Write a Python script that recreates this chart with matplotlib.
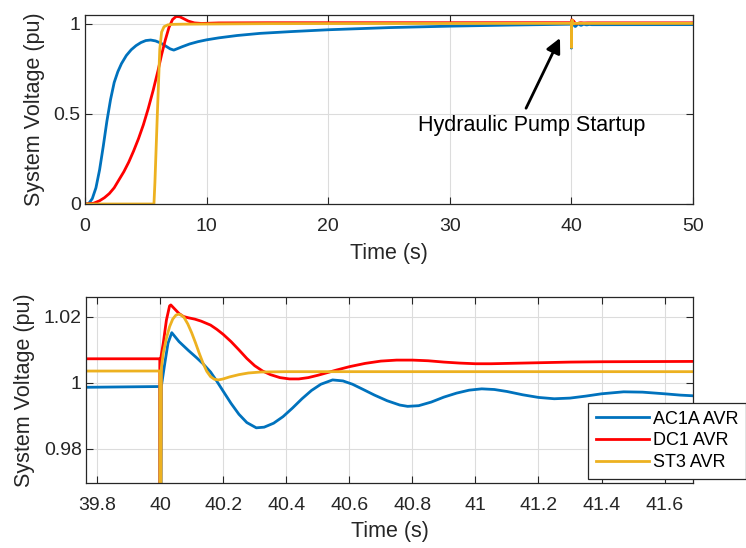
import matplotlib
matplotlib.use("Agg")
import matplotlib.pyplot as plt

plt.rcParams['font.family'] = ['Liberation Sans', 'DejaVu Sans']

# ---------------- data ----------------
ac1a_t = [0, 0.3, 0.6, 0.9, 1.2, 1.5, 1.8, 2.1, 2.4, 2.7, 3.0, 3.4, 3.8, 4.2, 4.6,
          5.0, 5.4, 5.8, 6.2, 6.6, 7.0, 7.3, 7.6, 8.0, 8.6, 9.3, 10, 11, 12.5, 14.4,
          17, 20, 25, 30, 35, 39.999,
          40.0, 40.004, 40.015, 40.025, 40.037, 40.06, 40.09, 40.116, 40.136, 40.16,
          40.18, 40.2, 40.225, 40.25, 40.275, 40.305, 40.33, 40.36, 40.39, 40.42,
          40.45, 40.48, 40.51, 40.547, 40.58, 40.61, 40.64, 40.68, 40.72, 40.76,
          40.785, 40.82, 40.86, 40.9, 40.94, 40.98, 41.02, 41.06, 41.1, 41.15, 41.2,
          41.25, 41.3, 41.35, 41.4, 41.47, 41.53, 41.6, 41.65, 41.69, 45, 50]
ac1a_v = [0, 0.002, 0.03, 0.09, 0.19, 0.32, 0.46, 0.58, 0.675, 0.735, 0.78, 0.825,
          0.857, 0.88, 0.897, 0.908, 0.911, 0.906, 0.895, 0.879, 0.862, 0.855, 0.863,
          0.874, 0.889, 0.902, 0.912, 0.923, 0.936, 0.948, 0.958, 0.968, 0.98, 0.988,
          0.994, 0.9989,
          0.866, 0.999, 1.006, 1.012, 1.0152, 1.0125, 1.0098, 1.0076, 1.0058, 1.0033,
          1.0005, 0.9975, 0.9938, 0.9905, 0.9880, 0.9864, 0.9866, 0.9878, 0.9898,
          0.9924, 0.9952, 0.9977, 0.9996, 1.0009, 1.0006, 0.9996, 0.9982, 0.9963,
          0.9946, 0.9933, 0.9929, 0.9931, 0.9942, 0.9957, 0.9969, 0.9978, 0.9982,
          0.9980, 0.9974, 0.9964, 0.9956, 0.9952, 0.9954, 0.996, 0.9967, 0.9973,
          0.9972, 0.9967, 0.9963, 0.9961, 0.9963, 0.9965]

dc1_t = [0, 0.7, 1.2, 1.6, 2.0, 2.4, 2.8, 3.2, 3.6, 4.0, 4.4, 4.8, 5.2, 5.6, 6.0,
         6.3, 6.6, 6.9, 7.2, 7.5, 7.8, 8.1, 8.5, 9.0, 9.6, 11, 15, 39.999,
         40.0, 40.003, 40.01, 40.02, 40.03, 40.034, 40.045, 40.06, 40.074, 40.09,
         40.11, 40.13, 40.16, 40.18, 40.2, 40.225, 40.25, 40.275, 40.3, 40.325,
         40.35, 40.38, 40.41, 40.44, 40.47, 40.5, 40.53, 40.56, 40.6, 40.65, 40.7,
         40.75, 40.8, 40.85, 40.9, 40.95, 41.0, 41.05, 41.1, 41.2, 41.3, 41.4,
         41.69, 50]
dc1_v = [0, 0.004, 0.018, 0.035, 0.058, 0.09, 0.135, 0.18, 0.233, 0.295, 0.363,
         0.44, 0.53, 0.63, 0.74, 0.83, 0.91, 0.98, 1.025, 1.042, 1.04, 1.03, 1.016,
         1.006, 1.003, 1.006, 1.007, 1.0073,
         0.90, 1.008, 1.012, 1.019, 1.0233, 1.0236, 1.0225, 1.021, 1.0201, 1.0197,
         1.0193, 1.0187, 1.0175, 1.0162, 1.0147, 1.0125, 1.0100, 1.0074, 1.0052,
         1.0036, 1.0025, 1.0016, 1.0012, 1.0012, 1.0016, 1.0023, 1.0031, 1.0039,
         1.0049, 1.0059, 1.0066, 1.0069, 1.0069, 1.0067, 1.0063, 1.006, 1.0058,
         1.0058, 1.0059, 1.0061, 1.0063, 1.0064, 1.0065, 1.0065]

st3_t = [0, 5.67, 5.75, 5.95, 6.15, 6.3, 6.5, 6.8, 7.2, 8, 10, 15, 30, 39.999,
         40.0, 40.004, 40.01, 40.02, 40.03, 40.04, 40.05, 40.058, 40.066, 40.076,
         40.088, 40.1, 40.112, 40.124, 40.136, 40.148, 40.16, 40.172, 40.185, 40.2,
         40.22, 40.25, 40.28, 40.32, 40.4, 41.69, 50]
st3_v = [0, 0, 0.12, 0.5, 0.86, 0.955, 0.985, 0.995, 0.998, 0.999, 1.0, 1.002,
         1.003, 1.0036,
         0.87, 1.0045, 1.009, 1.0135, 1.017, 1.0193, 1.0205, 1.0208, 1.0206, 1.0198,
         1.0178, 1.0152, 1.0122, 1.009, 1.006, 1.0035, 1.0019, 1.0011, 1.0009,
         1.0012, 1.0018, 1.0025, 1.003, 1.0033, 1.0034, 1.0034, 1.0034]

series_labels = ['AC1A AVR', 'DC1 AVR', 'ST3 AVR']
series_colors = ['#0072BD', '#FF0000', '#EDB120']

top_xticks = [0, 10, 20, 30, 40, 50]
top_yticks = [0, 0.5, 1]
top_yticklabels = ['0', '0.5', '1']
bot_xticks = [39.8, 40.0, 40.2, 40.4, 40.6, 40.8, 41.0, 41.2, 41.4, 41.6]
bot_xticklabels = ['39.8', '40', '40.2', '40.4', '40.6', '40.8', '41', '41.2', '41.4', '41.6']
bot_yticks = [0.98, 1.0, 1.02]
bot_yticklabels = ['0.98', '1', '1.02']

annotation_text = 'Hydraulic Pump Startup'

# ---------------- figure ----------------
W, H = 746, 548
fig = plt.figure(figsize=(W / 100, H / 100), dpi=100)

def px_axes(l, t, r, b):
    return fig.add_axes([l / W, 1 - b / H, (r - l) / W, (b - t) / H])

ax1 = px_axes(85, 15, 693, 204)
ax2 = px_axes(86, 297, 693, 483)

axc = '#262626'
tick_fs = 14
label_fs = 15.5

def style(ax):
    for s in ax.spines.values():
        s.set_color(axc)
        s.set_linewidth(0.9)
    ax.tick_params(direction='in', top=True, right=True, colors=axc,
                   labelsize=tick_fs, length=5, width=0.8)
    ax.tick_params(axis='x', pad=10)
    ax.tick_params(axis='y', pad=3)
    ax.grid(True, color='#dcdcdc', linewidth=0.8)
    ax.set_axisbelow(True)

data = [(ac1a_t, ac1a_v), (dc1_t, dc1_v), (st3_t, st3_v)]

for ax in (ax1, ax2):
    for (t, v), c, lab in zip(data, series_colors, series_labels):
        ax.plot(t, v, color=c, lw=2.0, label=lab, solid_joinstyle='round')
    style(ax)

ax1.set_xlim(0, 50)
ax1.set_ylim(0, 1.05)
ax1.set_xticks(top_xticks)
ax1.set_xticklabels([str(x) for x in top_xticks])
ax1.set_yticks(top_yticks)
ax1.set_yticklabels(top_yticklabels)
ax1.set_xlabel('Time (s)', fontsize=label_fs, color=axc, labelpad=6)
ax1.set_ylabel('System Voltage (pu)', fontsize=label_fs, color=axc, labelpad=6)

ax1.text(36.7, 0.437, annotation_text, fontsize=15.5, ha='center', va='center',
         color='k')
ax1.annotate('', xy=(39.06, 0.922), xytext=(36.27, 0.532),
             arrowprops=dict(arrowstyle='-|>', color='k', lw=2,
                             mutation_scale=22, shrinkA=0, shrinkB=0))

ax2.set_xlim(39.765, 41.69)
ax2.set_ylim(0.9697, 1.026)
ax2.set_xticks(bot_xticks)
ax2.set_xticklabels(bot_xticklabels)
ax2.set_yticks(bot_yticks)
ax2.set_yticklabels(bot_yticklabels)
ax2.set_xlabel('Time (s)', fontsize=label_fs, color=axc, labelpad=5)
ax2.set_ylabel('System Voltage (pu)', fontsize=label_fs, color=axc, labelpad=6)

leg = ax2.legend(loc='upper left', bbox_to_anchor=(588 / W, 1 - 403 / H),
                 bbox_transform=fig.transFigure, fontsize=13, frameon=True,
                 fancybox=False, framealpha=1, edgecolor=axc,
                 handlelength=2.95, handletextpad=0.25, labelspacing=0.26,
                 borderpad=0.42, borderaxespad=0)
leg.get_frame().set_linewidth(0.9)
for t in leg.get_texts():
    t.set_color('k')

fig.savefig('out.png', dpi=100)
